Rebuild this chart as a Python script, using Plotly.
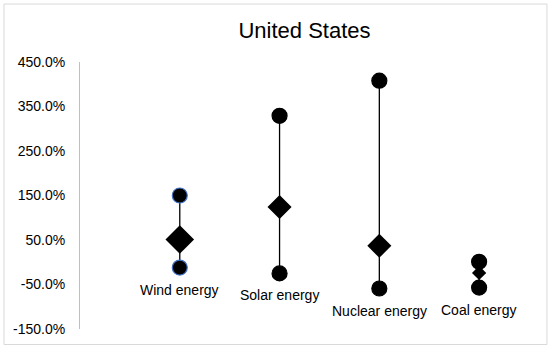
import plotly.graph_objects as go

categories = ["Wind energy", "Solar energy", "Nuclear energy", "Coal energy"]
high_vals = [150, 329, 408, 1]
mid_vals = [51, 124, 37, -24]
low_vals = [-12, -25, -59, -57]
diamond_sizes = [22, 18.5, 18.5, 11]
circle_outline = ["#4472C4", "#000000", "#000000", "#000000"]

tick_vals = [-150, -50, 50, 150, 250, 350, 450]

xpos = list(range(1, len(categories) + 1))

fig = go.Figure()

# vertical range lines
lx, ly = [], []
for x, h, l in zip(xpos, high_vals, low_vals):
    lx += [x, x, None]
    ly += [h, l, None]
fig.add_trace(go.Scatter(x=lx, y=ly, mode="lines",
                         line=dict(color="#000000", width=1.3),
                         hoverinfo="skip", showlegend=False))

# high and low circles
fig.add_trace(go.Scatter(x=xpos + xpos, y=high_vals + low_vals, mode="markers",
                         marker=dict(symbol="circle", size=15, color="#000000", opacity=1,
                                     line=dict(color=circle_outline + circle_outline, width=1.2)),
                         showlegend=False))

# mid diamonds
fig.add_trace(go.Scatter(x=xpos, y=mid_vals, mode="markers",
                         marker=dict(symbol="diamond", size=diamond_sizes, color="#000000",
                                     opacity=1, line=dict(width=0)),
                         showlegend=False))

for x, l, name in zip(xpos, low_vals, categories):
    fig.add_annotation(x=x, y=l, text=name, showarrow=False, yshift=-22,
                       yanchor="middle", xanchor="center",
                       font=dict(family="Liberation Sans, Arial", size=14, color="#000000"))

fig.add_shape(type="rect", xref="paper", yref="paper",
              x0=-0.1693, x1=1.040, y0=-0.058, y1=1.217,
              line=dict(color="#d9d9d9", width=1), fillcolor="rgba(0,0,0,0)", layer="below")

fig.update_layout(
    width=550, height=353,
    margin=dict(l=80, r=21, t=62, b=24),
    paper_bgcolor="#ffffff", plot_bgcolor="#ffffff",
    font=dict(family="Liberation Sans, Arial", size=14, color="#000000"),
    title=dict(text="United States", x=0.5, xanchor="center", xref="paper",
               y=1 - 30 / 353, yanchor="middle",
               font=dict(family="Liberation Sans, Arial", size=22, color="#000000")),
    xaxis=dict(visible=False, range=[0, 4.5], fixedrange=True),
    yaxis=dict(range=[-150, 450], tickvals=tick_vals,
               ticktext=[f"{v:.1f}%" for v in tick_vals],
               showgrid=False, zeroline=False, showline=True,
               linecolor="#bfbfbf", linewidth=1, ticks="",
               ticklabelstandoff=11, fixedrange=True,
               tickfont=dict(family="Liberation Sans, Arial", size=14, color="#000000")),
)

fig.write_html("out.html", config={"displayModeBar": False},
               post_script="document.body.style.margin='0';")
